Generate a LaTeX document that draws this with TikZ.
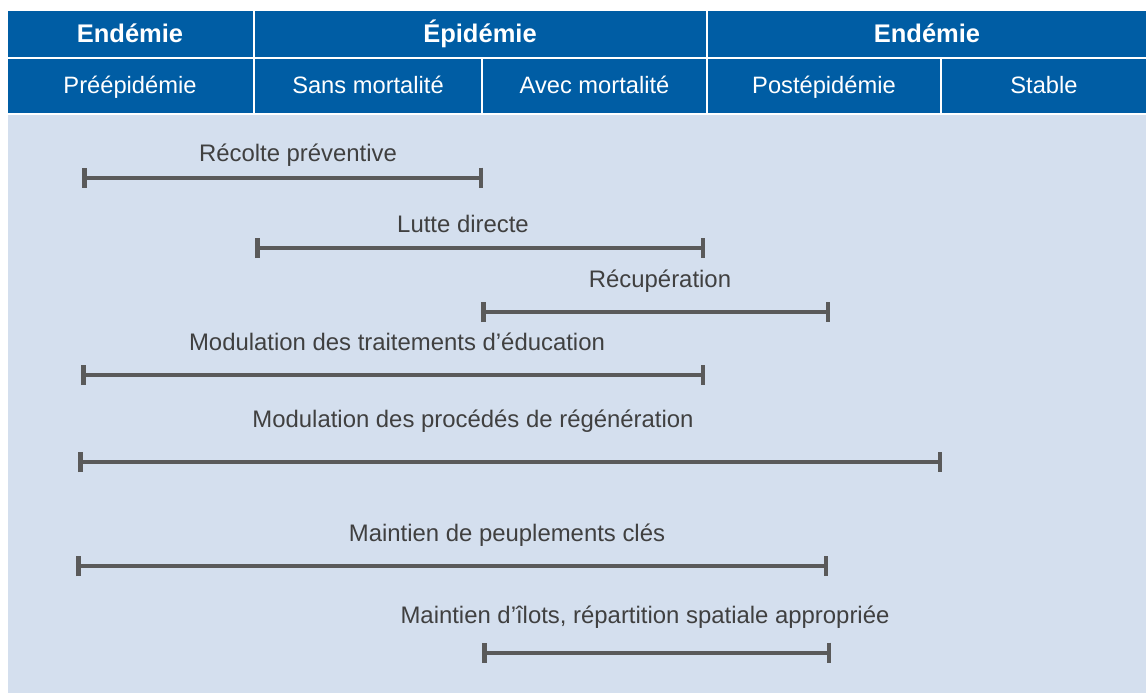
\documentclass[tikz,border=0pt]{standalone}
\usepackage{fontspec}
\setmainfont{Liberation Sans}
\usetikzlibrary{arrows.meta}
\definecolor{hdrblue}{RGB}{0,93,164}
\definecolor{bodyblue}{RGB}{212,223,238}
\definecolor{bargray}{RGB}{90,90,90}
\definecolor{txtgray}{RGB}{64,64,64}
\begin{document}
\begin{tikzpicture}[x=1pt,y=-1pt,
  toptext/.style={font=\fontsize{25.5}{30}\selectfont\bfseries,text=white,anchor=base,inner sep=0pt},
  subtext/.style={font=\fontsize{23.7}{28}\selectfont,text=white,anchor=base,inner sep=0pt},
  lbl/.style={font=\fontsize{23.9}{28}\selectfont,text=txtgray,anchor=base,inner sep=0pt},
  spanbar/.style={draw=bargray,line width=4pt,{Bar[width=20pt,line width=4.5pt]}-{Bar[width=20pt,line width=4.5pt]}}]
\useasboundingbox (0,0) rectangle (1146,693);
\fill[white] (0,0) rectangle (1146,693);
% body
\fill[bodyblue] (7.5,115) rectangle (1146,693);
% header row 1
\fill[hdrblue] (7.5,11) rectangle (252.5,57);
\fill[hdrblue] (254.5,11) rectangle (706,57);
\fill[hdrblue] (708,11) rectangle (1146,57);
% header row 2
\fill[hdrblue] (7.5,59) rectangle (252.5,113);
\fill[hdrblue] (254.5,59) rectangle (481,113);
\fill[hdrblue] (483,59) rectangle (706,113);
\fill[hdrblue] (708,59) rectangle (940,113);
\fill[hdrblue] (942,59) rectangle (1146,113);
% header texts
\node[toptext] (h1) at (130,43) {Endémie};
\node[toptext] (h2) at (480,43) {Épidémie};
\node[toptext] (h3) at (927,43) {Endémie};
\node[subtext] (s1) at (130,93.5) {Préépidémie};
\node[subtext] (s2) at (368,93.5) {Sans mortalité};
\node[subtext] (s3) at (594.5,93.5) {Avec mortalité};
\node[subtext] (s4) at (824,93.5) {Postépidémie};
\node[subtext] (s5) at (1044,93.5) {Stable};
% bars
\coordinate (b1l) at (82,177.5);  \coordinate (b1r) at (483,177.5);
\coordinate (b2l) at (255,248);   \coordinate (b2r) at (705,248);
\coordinate (b3l) at (481,312);   \coordinate (b3r) at (830,312);
\coordinate (b4l) at (81,375);    \coordinate (b4r) at (705,375);
\coordinate (b5l) at (78,462);    \coordinate (b5r) at (942,462);
\coordinate (b6l) at (76,566);    \coordinate (b6r) at (828,566);
\coordinate (b7l) at (482,652.5); \coordinate (b7r) at (831,652.5);
\draw[spanbar] (b1l) -- (b1r);
\draw[spanbar] (b2l) -- (b2r);
\draw[spanbar] (b3l) -- (b3r);
\draw[spanbar] (b4l) -- (b4r);
\draw[spanbar] (b5l) -- (b5r);
\draw[spanbar] (b6l) -- (b6r);
\draw[spanbar] (b7l) -- (b7r);
% labels
\node[lbl] (l1) at (298,161) {Récolte préventive};
\node[lbl] (l2) at (463,232) {Lutte directe};
\node[lbl] (l3) at (660,287) {Récupération};
\node[lbl] (l4) at (397,350) {Modulation des traitements d’éducation};
\node[lbl] (l5) at (473,427) {Modulation des procédés de régénération};
\node[lbl] (l6) at (507,541) {Maintien de peuplements clés};
\node[lbl] (l7) at (645,623) {Maintien d’îlots, répartition spatiale appropriée};
\end{tikzpicture}
\end{document}
